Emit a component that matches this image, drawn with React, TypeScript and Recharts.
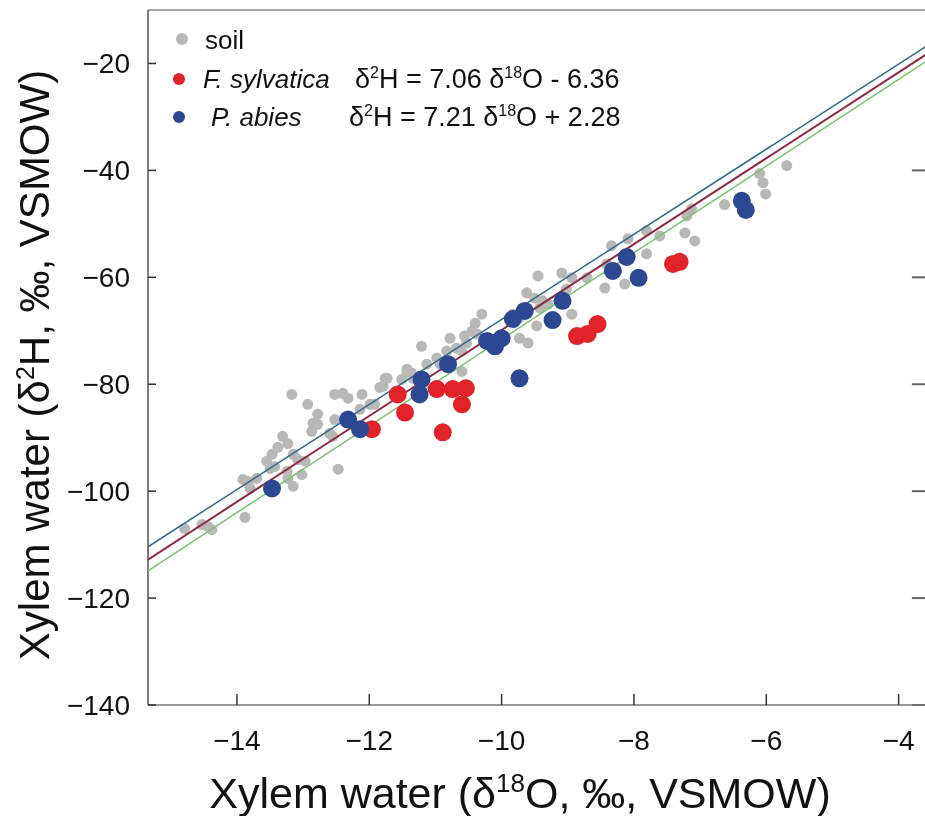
import React from "react";
import {
  ScatterChart,
  Scatter,
  XAxis,
  YAxis,
  ReferenceLine,
  Customized,
} from "recharts";

// soil water samples [δ18O, δ2H]
const soil: [number, number][] = [
  [-13.17, -81.9], [-12.93, -83.75], [-12.78, -85.6], [-12.52, -81.9], [-12.4, -81.7],
  [-12.32, -82.6], [-12.11, -81.9], [-11.76, -78.9], [-11.84, -80.6], [-11.43, -77.9],
  [-11.34, -78.9], [-11.13, -76.25], [-11.92, -83.75], [-12.85, -87.3], [-12.78, -87.5],
  [-12.87, -88.8], [-12.6, -89.2], [-12.52, -86.6], [-12.55, -89.75], [-13.31, -89.75],
  [-13.23, -91.1], [-13.38, -91.8], [-13.47, -93.1], [-13.55, -94.4], [-13.43, -95.4],
  [-13.5, -95.75], [-13.15, -93.1], [-13.08, -94.1], [-12.97, -94.4], [-13.24, -96.3],
  [-13.23, -97.6], [-13.02, -96.9], [-13.91, -97.8], [-13.83, -98.2], [-13.7, -97.6],
  [-13.8, -99.5], [-13.15, -99.1], [-12.47, -95.9], [-13.88, -104.9], [-14.79, -107.0],
  [-14.53, -106.25], [-14.44, -106.6], [-14.38, -107.2], [-12.14, -84.7], [-11.99, -83.75],
  [-9.45, -59.75], [-9.09, -59.2], [-8.94, -60.1], [-9.62, -62.9], [-9.5, -63.9],
  [-9.38, -64.4], [-9.42, -65.75], [-9.3, -65.0], [-9.83, -66.9], [-9.73, -67.6],
  [-10.3, -66.9], [-10.4, -68.6], [-10.45, -70.1], [-10.37, -70.6], [-10.56, -71.0],
  [-10.78, -71.4], [-11.21, -72.9], [-10.83, -73.8], [-10.68, -73.25], [-10.6, -73.8],
  [-10.53, -72.3], [-10.98, -75.1], [-10.93, -76.25], [-11.43, -77.2], [-11.36, -77.9],
  [-11.73, -78.9], [-11.79, -80.4], [-11.51, -79.1], [-10.6, -77.6], [-9.73, -71.4],
  [-9.6, -72.3], [-9.47, -69.1], [-8.94, -66.9], [-8.44, -62.0], [-8.14, -61.25],
  [-8.41, -57.5], [-8.26, -58.8], [-5.69, -39.1], [-6.1, -40.6], [-6.05, -42.3],
  [-6.01, -44.4], [-6.63, -46.4], [-7.2, -48.5], [-7.13, -47.2], [-7.23, -51.7],
  [-7.08, -53.2], [-7.81, -51.3], [-7.61, -52.25], [-8.09, -52.8], [-8.34, -54.1],
  [-7.81, -55.6], [-9.02, -62.2], [-8.71, -60.1],
];

const sylvatica: [number, number][] = [
  [-11.96, -88.4], [-11.57, -81.9], [-11.46, -85.3], [-10.98, -80.9], [-10.74, -80.9],
  [-10.54, -80.75], [-10.6, -83.75], [-10.89, -89.0], [-8.86, -71.0], [-8.7, -70.6],
  [-8.55, -68.75], [-7.41, -57.5], [-7.31, -57.1],
];

const abies: [number, number][] = [
  [-13.47, -99.5], [-12.32, -86.6], [-12.14, -88.4], [-11.21, -79.1], [-11.24, -81.9],
  [-10.81, -76.25], [-10.22, -71.9], [-10.1, -72.9], [-10.0, -71.4], [-9.83, -67.8],
  [-9.65, -66.3], [-9.23, -68.0], [-9.08, -64.4], [-9.73, -78.9], [-8.32, -58.8],
  [-8.11, -56.2], [-7.93, -60.1], [-6.37, -45.7], [-6.31, -47.4],
];

// regression / meteoric lines, end points (the frame's right side is cropped off)
const lineO = [-15.344, -3.42];
const blueLineH = [-110.4, -15.5];
const maroonLineH = [-112.8, -17.0];
const greenLineH = [-114.9, -18.3];

const xTicks = [-14, -12, -10, -8, -6, -4];
const yTicks = [-140, -120, -100, -80, -60, -40, -20];
// right-hand frame ticks, pointing inward from the cropped frame
const rightTicks = [-140, -120, -100, -80, -60, -40];
const rightTickFrom = -3.8;

const toPts = (arr: [number, number][]) => arr.map(([x, y]) => ({ x, y }));
const toLine = (h: number[]) => lineO.map((x, i) => ({ x, y: h[i] }));

const fmt = (v: number) => (v < 0 ? "\u2212" + Math.abs(v) : String(v));

const FONT = "'Liberation Sans', Arial, sans-serif";

const dot = (r: number, fill: string) => (p: any) => (
  <circle cx={p.cx} cy={p.cy} r={r} fill={fill} />
);
const noDot = () => <g />;

const Extras = () => (
  <g fontFamily={FONT} fill="#111">
    {/* legend */}
    <circle cx={174} cy={31} r={6} fill="#b8b8b6" />
    <text x={197} y={41} fontSize={26}>soil</text>
    <circle cx={171} cy={71} r={6} fill="#e2242a" />
    <text x={195} y={80} fontSize={26} fontStyle="italic">F. sylvatica</text>
    <text x={347} y={80} fontSize={27}>
      δ<tspan dy={-10} fontSize={16}>2</tspan>
      <tspan dy={10}>H = 7.06 δ</tspan>
      <tspan dy={-10} fontSize={16}>18</tspan>
      <tspan dy={10}>O - 6.36</tspan>
    </text>
    <circle cx={171} cy={109} r={6} fill="#2c4893" />
    <text x={203} y={118} fontSize={26} fontStyle="italic">P. abies</text>
    <text x={341} y={118} fontSize={27}>
      δ<tspan dy={-10} fontSize={16}>2</tspan>
      <tspan dy={10}>H = 7.21 δ</tspan>
      <tspan dy={-10} fontSize={16}>18</tspan>
      <tspan dy={10}>O + 2.28</tspan>
    </text>
    {/* axis titles */}
    <text x={512} y={800} fontSize={43} textAnchor="middle">
      Xylem water (δ<tspan dy={-16} fontSize={26}>18</tspan>
      <tspan dy={16}>O, ‰, VSMOW)</tspan>
    </text>
    <text
      x={0}
      y={0}
      fontSize={42}
      textAnchor="middle"
      transform="translate(41 357) rotate(-90)"
    >
      Xylem water (δ<tspan dy={-15} fontSize={25}>2</tspan>
      <tspan dy={15}>H, ‰, VSMOW)</tspan>
    </text>
  </g>
);

export default function App() {
  const tickStyle = { fontSize: 28, fill: "#111", fontFamily: FONT };
  return (
    <div
      style={{
        position: "fixed",
        left: 8,
        top: 8,
        width: 917,
        height: 808,
        overflow: "hidden",
      }}
    >
      <style>{"html, body { overflow: hidden; }"}</style>
      <ScatterChart
        width={930}
        height={808}
        margin={{ top: 2, right: 1, bottom: 0, left: 0 }}
      >
        <XAxis
          type="number"
          dataKey="x"
          domain={[lineO[0], lineO[1]]}
          allowDataOverflow
          ticks={xTicks}
          tickFormatter={fmt}
          height={111}
          tickSize={-11}
          tickMargin={36}
          tick={tickStyle}
          axisLine={{ stroke: "#777", strokeWidth: 1.5 }}
          tickLine={{ stroke: "#333", strokeWidth: 1.5 }}
        />
        <YAxis
          type="number"
          dataKey="y"
          domain={[-140, -10]}
          allowDataOverflow
          ticks={yTicks}
          tickFormatter={fmt}
          width={140}
          tickSize={-8}
          tickMargin={26}
          tick={tickStyle}
          axisLine={{ stroke: "#555", strokeWidth: 1.5 }}
          tickLine={{ stroke: "#333", strokeWidth: 1.5 }}
        />
        <ReferenceLine y={-10} stroke="#888" strokeWidth={1.5} />
        {rightTicks.map((v) => (
          <ReferenceLine
            key={v}
            segment={[
              { x: rightTickFrom, y: v },
              { x: lineO[1], y: v },
            ]}
            stroke="#666"
            strokeWidth={2}
          />
        ))}
        <Scatter
          data={toPts(soil)}
          shape={dot(5.5, "#b8b8b6")}
          isAnimationActive={false}
        />
        <Scatter
          data={toLine(greenLineH)}
          line={{ stroke: "#78c46c", strokeWidth: 1.5 }}
          shape={noDot}
          isAnimationActive={false}
        />
        <Scatter
          data={toLine(maroonLineH)}
          line={{ stroke: "#8c2a40", strokeWidth: 2 }}
          shape={noDot}
          isAnimationActive={false}
        />
        <Scatter
          data={toLine(blueLineH)}
          line={{ stroke: "#2f6a8f", strokeWidth: 1.5 }}
          shape={noDot}
          isAnimationActive={false}
        />
        <Scatter
          data={toPts(sylvatica)}
          shape={dot(9, "#e2242a")}
          isAnimationActive={false}
        />
        <Scatter
          data={toPts(abies)}
          shape={dot(9, "#2c4893")}
          isAnimationActive={false}
        />
        <Customized component={Extras} />
      </ScatterChart>
    </div>
  );
}
